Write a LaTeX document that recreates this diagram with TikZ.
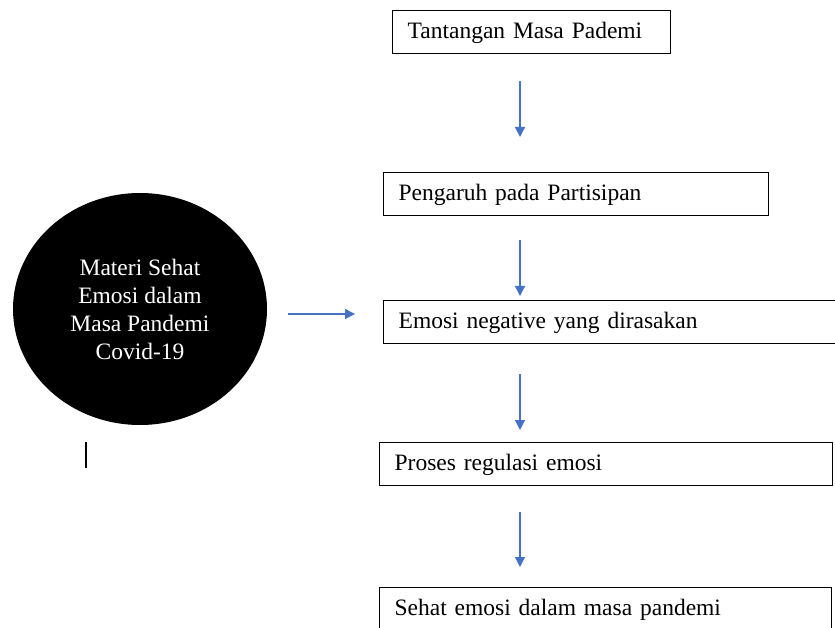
\documentclass[tikz,border=0pt]{standalone}
\usepackage{fontspec}
\setmainfont{Liberation Serif}
\usepackage{tikz}
\usetikzlibrary{shapes.geometric,arrows.meta}
\definecolor{arrowblue}{RGB}{68,114,196}
\tikzstyle{block} = [rectangle, draw, line width=1.3pt, anchor=north west,
minimum height=43pt, inner xsep=15pt, align=left, text height=1.45em, text depth=0.1em]
\tikzstyle{line} = [draw, arrowblue, line width=1.2pt, -{Triangle[width=10pt,length=10pt]}]
\tikzset{
  topic/.style = {ellipse, fill=black, text=white, align=center,
                  minimum width=254pt, minimum height=232pt, inner sep=0pt},
  stray/.style = {draw, line width=1.2pt}
}

\begin{document}
\begin{tikzpicture}[x=1pt, y=-1pt, font=\fontsize{23.5pt}{28pt}\selectfont]
	\useasboundingbox (0,0) rectangle (835,628);
	% Place nodes
	\node [topic] (materi) at (140,309) {Materi Sehat\\Emosi dalam\\Masa Pandemi\\Covid-19};
	\node [block, text width=248pt] (tantangan) at (392,10) {Tantangan Masa Pademi};
	\node [block, text width=355pt] (pengaruh) at (383,172) {Pengaruh pada Partisipan};
	\node [block, text width=447pt] (emosi) at (383,300) {Emosi negative yang dirasakan};
	\node [block, text width=423pt] (proses) at (379,442) {Proses regulasi emosi};
	\node [block, text width=422pt] (sehat) at (379,587) {Sehat emosi dalam masa pandemi};
	\coordinate (spine) at (520,0);
	% Draw edges
	\path [line, shorten <=27pt, shorten >=35pt] (tantangan.south -| spine) -- (pengaruh.north -| spine);
	\path [line, shorten <=24pt, shorten >=4pt] (pengaruh.south -| spine) -- (emosi.north -| spine);
	\path [line, shorten <=30pt, shorten >=12pt] (emosi.south -| spine) -- (proses.north -| spine);
	\path [line, shorten <=26pt, shorten >=20pt] (proses.south -| spine) -- (sehat.north -| spine);
	\path [line, shorten <=21pt, shorten >=28pt] ([yshift=-5pt]materi.east) -- ([yshift=-5pt]materi.east -| emosi.west);
	% Mark below the circle
	\coordinate (markTop) at (86,442);
	\coordinate (markBottom) at (86,468);
	\path [stray] (markTop) -- (markBottom);
\end{tikzpicture}
\end{document}
